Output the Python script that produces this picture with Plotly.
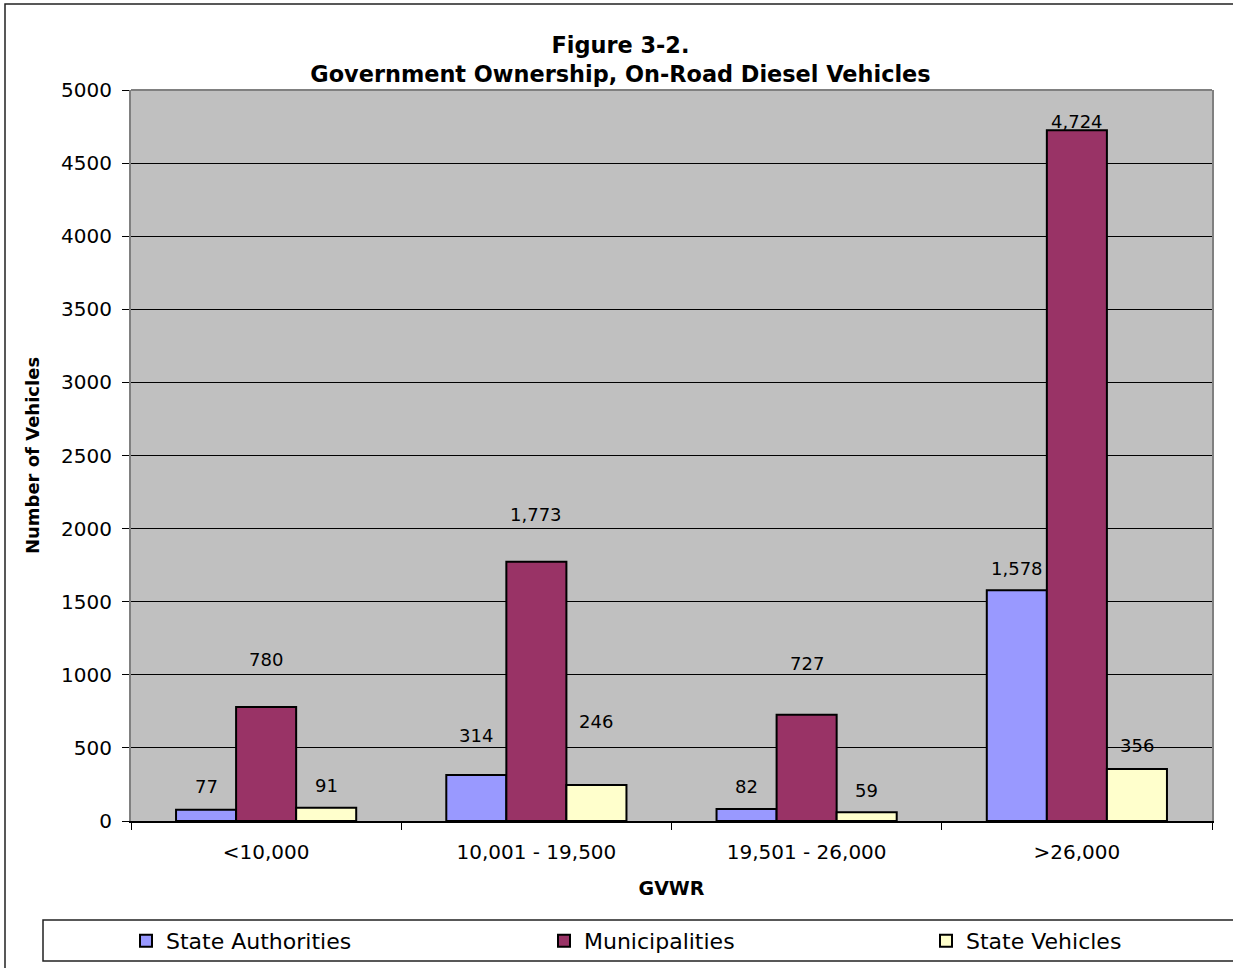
import plotly.graph_objects as go

# ---- data ----
categories = ["<10,000", "10,001 - 19,500", "19,501 - 26,000", ">26,000"]
state_authorities = [77, 314, 82, 1578]
municipalities = [780, 1773, 727, 4724]
state_vehicles = [91, 246, 59, 356]
series_names = ["State Authorities", "Municipalities", "State Vehicles"]
y_tick_values = list(range(0, 5001, 500))

# ---- style ----
colors = ["#9999FF", "#993366", "#FFFFCC"]
label_lift_px = [[23, 40, 23, 22], [47, 47, 51, 9], [22, 64, 22, 23]]
FONT = "DejaVu Sans"
W, H = 1233, 968
ML, MR, MT, MB = 131, 21, 90, 147
PW, PH = W - ML - MR, H - MT - MB
BARGAP = 1 / 3


def px_x(px):
    return (px - ML) / PW


def px_y(py):
    return (H - MB - py) / PH


series = [state_authorities, municipalities, state_vehicles]
legend_ids = ["legend", "legend2", "legend3"]

fig = go.Figure()
for name, vals, col, lg in zip(series_names, series, colors, legend_ids):
    fig.add_trace(go.Bar(
        x=categories, y=vals, name=name, legend=lg, showlegend=True,
        marker=dict(color=col, line=dict(color="black", width=2)),
    ))

bar_w = PW / len(categories) * (1 - BARGAP) / len(series)
annotations = []
for si, vals in enumerate(series):
    for ci, v in enumerate(vals):
        annotations.append(dict(
            x=categories[ci], y=v, xref="x", yref="y",
            text=f"{v:,}", showarrow=False,
            xshift=(si - 1) * bar_w, yshift=label_lift_px[si][ci],
            yanchor="middle", xanchor="center",
            font=dict(family=FONT, size=18, color="black"),
        ))

shapes = [
    # outer chart border
    dict(type="rect", xref="paper", yref="paper",
         x0=px_x(5), x1=px_x(1260), y0=px_y(4), y1=px_y(1000),
         line=dict(color="#222222", width=1.5), fillcolor="rgba(0,0,0,0)", layer="below"),
    # legend box
    dict(type="rect", xref="paper", yref="paper",
         x0=px_x(43), x1=px_x(1260), y0=px_y(920), y1=px_y(961),
         line=dict(color="#222222", width=1.5), fillcolor="white", layer="below"),
    # top border of plot area
    dict(type="line", xref="paper", yref="paper", x0=0, x1=1, y0=1, y1=1,
         line=dict(color="#808080", width=2), layer="above"),
]

leg_common = dict(orientation="h", bgcolor="rgba(0,0,0,0)", borderwidth=0,
                  font=dict(family=FONT, size=22, color="black"),
                  yanchor="middle", xanchor="left", y=px_y(941))

fig.update_layout(
    width=W, height=H, showlegend=True,
    margin=dict(l=ML, r=MR, t=MT, b=MB, autoexpand=False),
    paper_bgcolor="white", plot_bgcolor="#C0C0C0",
    barmode="group", bargap=BARGAP, bargroupgap=0,
    font=dict(family=FONT, color="black"),
    title=dict(
        text="Figure 3-2.<br>Government Ownership, On-Road Diesel Vehicles",
        x=620.5 / W, xref="container", xanchor="center",
        y=1 - 53 / H, yref="container", yanchor="middle",
        font=dict(family=FONT, size=22.4, weight=700, color="black"),
    ),
    xaxis=dict(
        type="category", tickson="boundaries", ticks="outside", ticklen=7,
        tickcolor="black", tickwidth=1, showgrid=False,
        showline=True, linecolor="black", linewidth=1.5,
        tickfont=dict(family=FONT, size=20, color="black"),
        ticklabelstandoff=12,
        title=dict(text="GVWR", standoff=19,
                   font=dict(family=FONT, size=19, weight=700, color="black")),
    ),
    yaxis=dict(
        range=[0, 5000], tickvals=y_tick_values, tickformat="d",
        ticks="outside", ticklen=7, tickcolor="black", tickwidth=1,
        showgrid=True, gridcolor="black", gridwidth=1, zeroline=False,
        showline=True, linecolor="#808080", linewidth=2, mirror=True,
        tickfont=dict(family=FONT, size=20, color="black"),
        ticklabelstandoff=6,
        title=dict(text="Number of Vehicles", standoff=17,
                   font=dict(family=FONT, size=18, weight=700, color="black")),
    ),
    legend=dict(leg_common, x=px_x(126)),
    legend2=dict(leg_common, x=px_x(544)),
    legend3=dict(leg_common, x=px_x(926)),
    annotations=annotations,
    shapes=shapes,
)

fig.write_html("out.html")
